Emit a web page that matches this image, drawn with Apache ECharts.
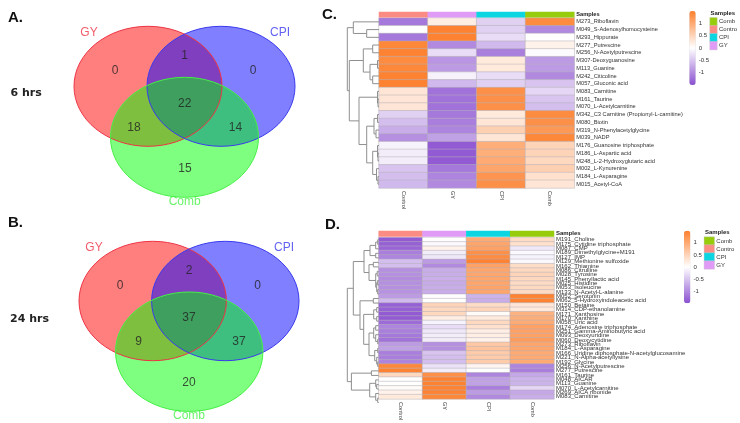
<!DOCTYPE html>
<html><head><meta charset="utf-8">
<style>html,body{margin:0;padding:0;background:#fff}#c{width:740px;height:423px}</style>
<script src="https://cdn.jsdelivr.net/npm/echarts@6/dist/echarts.min.js"></script>
</head><body><div id="c"></div>
<script>
// ---------- DATA ----------
const vennSets = ['GY', 'CPI', 'Comb'];
const vennCounts6h  = [0, 1, 0, 18, 22, 14, 15];
const vennCounts24h = [0, 2, 0, 9, 37, 37, 20];
const columns = ['Control', 'GY', 'CPI', 'Comb'];
const legendNames = ['Comb', 'Contro', 'CPI', 'GY'];
const colorbarTicks = [1, 0.5, 0, -0.5, -1];

const rowsC = ['M273_Riboflavin','M049_S-Adenosylhomocysteine','M293_Hippurate','M277_Putrescine','M256_N-Acetylputrescine','M307-Deoxyguanosine','M113_Guanine','M242_Citicoline','M057_Gluconic acid','M083_Carnitine','M161_Taurine','M070_L-Acetylcarnitine','M342_C3 Carnitine (Propionyl-L-carnitine)','M080_Biotin','M319_N-Phenylacetylglycine','M039_NADP','M176_Guanosine triphosphate','M186_L-Aspartic acid','M248_L-2-Hydroxyglutaric acid','M002_L-Kynurenine','M184_L-Asparagine','M015_Acetyl-CoA'];
const valuesC = [
[-1.15,0.2,-0.4,1.35],[0,1.45,-0.4,-1.0],[-1.15,1.45,-0.3,0],[1.4,-1.0,-0.6,0.15],[1.45,-0.3,-1.1,-0.03],
[1.35,-0.9,0.25,-0.85],[1.4,-0.85,0.25,-0.85],[1.45,-0.12,-0.3,-1.0],[1.45,-0.6,-0.4,-0.5],
[0.3,-1.2,1.3,-0.35],[0.3,-1.2,1.3,-0.5],[0.3,-1.2,1.3,-0.55],
[-0.4,-1.15,0.25,1.35],[-0.55,-1.1,0.3,1.3],[-0.7,-1.05,0.55,1.2],[-0.95,-0.8,0.3,1.4],
[-0.1,-1.4,0.95,0.5],[-0.15,-1.4,0.95,0.5],[-0.15,-1.4,1.0,0.45],[-0.5,-1.15,1.05,0.55],[-0.55,-1.05,1.25,0.35],[-0.6,-1.0,1.3,0.3]];
// dendrogram nodes: [height, childA, childB]; numbers are row indices
const treeC = [31.7,[25.7,0,[12.3,1,2]],[29.7,[15.7,[6.3,3,4],[9,[1.5,5,6],[6.3,7,8]]],[20,[1.5,9,[1,10,11]],[12.3,[5,[1.5,12,13],[3,14,15]],[6.3,[1.5,16,[1,17,18]],[2.5,19,[1,20,21]]]]]]];

const rowsD = ['M191_Choline','M175_Cytidine triphosphate','M087_CMP','M189_Dimethylglycine+M191','M127_IMP','M129_Methionine sulfoxide','M162_Thiamine','M086_Citrulline','M028_Tyrosine','M145_Phenyllactic acid','M025_Histidine','M053_Isoleucine','M133_N-Acetyl-L-alanine','M052_Serotonin','M062_5-Hydroxyindoleacetic acid','M150_Betaine','M314_CDP-ethanolamine','M171_Xanthosine','M170_Xanthine','M058_Uric acid','M174_Adenosine triphosphate','M251_Gamma-Aminobutyric acid','M093_Deoxyuridine','M060_Deoxycytidine','M273_Riboflavin','M184_L-Asparagine','M166_Uridine diphosphate-N-acetylglucosamine','M221_N-Alpha-acetyllysine','M192_Glycine','M256_N-Acetylputrescine','M277_Putrescine','M161_Taurine','M048_AICAR','M113_Guanine','M070_L-Acetylcarnitine','M269_AICA ribonide','M083_Carnitine'];
const valuesD = [
[-1.4,0,1.0,0.4],[-1.35,-0.05,1.05,0.35],[-1.3,0.15,1.1,-0.2],[-1.1,-0.15,1.3,-0.05],[-1.05,-0.2,1.35,-0.1],
[-0.55,-0.85,1.45,-0.05],[-0.55,-1.0,1.1,0.4],[-0.95,-0.7,1.05,0.45],[-0.95,-0.7,1.05,0.5],[-0.98,-0.68,1.05,0.45],
[-0.95,-0.72,1.05,0.42],[-0.95,-0.7,1.08,0.45],[-0.92,-0.7,1.05,0.42],[-0.85,0,-0.65,1.45],[-0.6,0,-0.7,1.45],
[-1.35,0.5,0.4,0.3],[-1.35,0.45,0.5,0.25],[-1.4,0.45,0.05,0.9],[-1.4,0.2,0.25,0.95],[-1.25,-0.1,0.45,1.0],
[-1.05,-0.3,0.35,1.1],[-1.1,-0.2,0.2,1.1],[-1.15,-0.15,0.2,1.1],[-1.2,-0.15,0.15,1.15],[-0.85,-0.95,0.65,1.05],
[-0.8,-0.95,0.7,1.05],[-1.1,-0.5,0.6,1.0],[-1.1,-0.55,0.6,1.0],[-1.05,-0.55,0.6,1.0],[1.4,-0.25,0.1,-1.05],
[1.45,-0.15,0,-1.1],[0.45,1.3,-1.05,-0.75],[0,1.45,-0.8,-0.65],[0,1.45,-0.8,-0.65],[0.05,1.45,-1.1,-0.35],
[0.15,1.45,-0.85,-0.75],[0.25,1.4,-1.0,-0.7]];
const treeD = [31.4,[25.4,[14.7,[8.7,[3,[1,0,1],2],[3,3,4]],[9.7,[5.4,5,6],[3,[1.5,7,8],[2,[1,9,10],[1,11,12]]]]],[18.7,[5.4,13,14],[15,[5,[2,15,16],[2,17,18]],[9.7,[5,[3,19,20],[3,21,[1,22,23]]],[4,[1,24,25],[2,26,[1,27,28]]]]]]],[27.3,[7.3,29,30],[9,[3,31,[2,32,33]],[3,34,[1,35,36]]]]];

// ---------- STYLE & LAYOUT ----------
const FONT = '"Liberation Sans", Arial, sans-serif';
const PURPLE = '#8a4fd0', ORANGE = '#fd7f2c';
const sampleColors = {Control:'#fb8c84', GY:'#e09bf6', CPI:'#0bd5e0', Comb:'#96cc0c', Contro:'#fb8c84'};
const setColors = {GY:[255,0,0], CPI:[0,0,255], Comb:[0,255,0]};
const setEdge = {GY:'#ee3344', CPI:'#3a3aee', Comb:'#44f044'};
const vennLayouts = [
  {counts:vennCounts6h, rx:74, ry:60,
   centers:{GY:[148,86.3],CPI:[221,86.3],Comb:[184.5,137.3]},
   names:{GY:[89,33],CPI:[280,33],Comb:[184.7,202]},
   spots:[[115,71],[184.7,56],[253,71],[134,128],[184.7,104],[235.5,128],[185,168.5]]},
  {counts:vennCounts24h, rx:73.7, ry:59.7,
   centers:{GY:[152.7,301],CPI:[225.3,301],Comb:[189.2,351.7]},
   names:{GY:[94,248],CPI:[284,248],Comb:[189,416]},
   spots:[[120,286],[189,271],[257.5,286],[138.5,342],[189,318],[239,342],[189,383]]}
];
const panels = [
  {rows:rowsC, values:valuesC, tree:treeC, left:379, width:195.3, top:18, height:170, annTop:12, annH:5.2,
   labelSize:5.7, cbar:{left:689.3,top:11,w:6.4,h:74}, leg:{left:710,top:17.7,w:10,h:32,titleX:710.5,titleY:14}},
  {rows:rowsD, values:valuesD, tree:treeD, left:378.7, width:175.3, top:237.5, height:167.3, annTop:231, annH:5.4,
   labelSize:6, cbar:{left:684,top:230.7,w:6.4,h:72.6}, leg:{left:704.3,top:237,w:10,h:32,titleX:705,titleY:233}}
];

// ---------- BUILD ----------
const grid=[], xAxis=[], yAxis=[], series=[], visualMap=[], graphic=[];
function addGrid(g,x,y){grid.push(Object.assign({containLabel:false},g));const i=grid.length-1;
  xAxis.push(Object.assign({gridIndex:i},x));yAxis.push(Object.assign({gridIndex:i},y));return i;}
const hidden={show:false};

// pixel-scaled overlay for the Venn diagrams
const ov=addGrid({left:0,top:0,width:740,height:423},
  {type:'value',min:0,max:740,show:false},{type:'value',min:0,max:423,inverse:true,show:false});
function vennItem(params,api){
  const c=api.coord([api.value(0),api.value(1)]), s=api.size([api.value(2),api.value(3)]);
  const name=vennSets[api.value(4)], rgb=setColors[name], isFill=api.value(5)===1;
  return {type:'ellipse',shape:{cx:c[0],cy:c[1],rx:s[0],ry:s[1]},
    style:isFill?{fill:`rgba(${rgb[0]},${rgb[1]},${rgb[2]},0.5)`,stroke:null}
                :{fill:null,stroke:setEdge[name],lineWidth:1}};
}
vennLayouts.forEach(L=>{
  const rows=[];
  [1,0].forEach(f=>vennSets.forEach((n,i)=>rows.push([L.centers[n][0],L.centers[n][1],L.rx,L.ry,i,f])));
  series.push({type:'custom',xAxisIndex:ov,yAxisIndex:ov,renderItem:vennItem,data:rows,clip:false,silent:true,
    encode:{x:0,y:1}});
  series.push({type:'scatter',xAxisIndex:ov,yAxisIndex:ov,symbolSize:0,silent:true,z:5,
    data:L.counts.map((v,i)=>({value:[L.spots[i][0],L.spots[i][1]],
      label:{show:true,position:'inside',formatter:String(v),fontFamily:FONT,fontSize:12,color:'#222'}}))});
  series.push({type:'scatter',xAxisIndex:ov,yAxisIndex:ov,symbolSize:0,silent:true,z:5,
    data:vennSets.map(n=>({value:L.names[n],
      label:{show:true,position:'inside',formatter:n,fontFamily:FONT,fontSize:12,color:setEdge[n]}}))});
});

function flatten(node,links){
  if(typeof node==='number')return {h:0,y:node+0.5};
  const a=flatten(node[1],links), b=flatten(node[2],links);
  links.push([a.h,a.y,node[0],b.y,b.h]);
  return {h:node[0],y:(a.y+b.y)/2};
}
function dendroItem(params,api){
  const p=[[api.value(0),api.value(1)],[api.value(2),api.value(1)],[api.value(2),api.value(3)],[api.value(4),api.value(3)]].map(q=>api.coord(q));
  return {type:'polyline',shape:{points:p},style:{fill:null,stroke:'#8f8f8f',lineWidth:1}};
}

panels.forEach(P=>{
  const n=P.rows.length;
  // main heatmap
  const h=addGrid({left:P.left,top:P.top,width:P.width,height:P.height},
    {type:'category',data:columns,axisLine:hidden,axisTick:hidden,splitLine:hidden,
     axisLabel:{rotate:-90,fontSize:5.6,fontFamily:FONT,color:'#444',margin:3,interval:0}},
    {type:'category',data:P.rows,inverse:true,position:'right',axisLine:hidden,axisTick:hidden,splitLine:hidden,
     axisLabel:{interval:0,fontSize:P.labelSize,fontFamily:FONT,color:'#333',margin:2}});
  const cells=[];P.values.forEach((r,y)=>r.forEach((v,x)=>cells.push([x,y,v])));
  series.push({type:'heatmap',xAxisIndex:h,yAxisIndex:h,data:cells,silent:true,
    itemStyle:{borderColor:'#b4b0b8',borderWidth:0.5}});
  visualMap.push({type:'continuous',seriesIndex:series.length-1,dimension:2,min:-1.5,max:1.5,calculable:false,
    inRange:{color:[PURPLE,'#ffffff',ORANGE]},itemWidth:P.cbar.w,itemHeight:P.cbar.h,left:P.cbar.left,top:P.cbar.top,
    padding:0,text:null,showLabel:false,hoverLink:false,realtime:false});
  // sample annotation strip
  const a=addGrid({left:P.left,top:P.annTop,width:P.width,height:P.annH},
    {type:'category',data:columns,show:false},
    {type:'category',data:['Samples'],position:'right',axisLine:hidden,axisTick:hidden,splitLine:hidden,
     axisLabel:{fontSize:P.labelSize,fontWeight:'bold',fontFamily:FONT,color:'#222',margin:2}});
  series.push({type:'heatmap',xAxisIndex:a,yAxisIndex:a,silent:true,
    data:columns.map((c,i)=>({value:[i,0,1],itemStyle:{color:sampleColors[c]}}))});
  // dendrogram
  const links=[];flatten(P.tree,links);
  const d=addGrid({left:P.left-33,top:P.top,width:33,height:P.height},
    {type:'value',min:0,max:33,inverse:true,show:false},
    {type:'value',min:0,max:n,inverse:true,show:false});
  series.push({type:'custom',xAxisIndex:d,yAxisIndex:d,renderItem:dendroItem,data:links,silent:true,encode:{x:[0,2,4],y:[1,3]}});
  // colour bar tick labels
  addGrid({left:P.cbar.left,top:P.cbar.top,width:P.cbar.w,height:P.cbar.h},
    {type:'category',data:[''],show:false},
    {type:'value',min:-1.5,max:1.5,interval:0.5,position:'right',axisLine:hidden,axisTick:hidden,splitLine:hidden,
     axisLabel:{fontSize:6,fontFamily:FONT,color:'#333',margin:3,
       formatter:v=>colorbarTicks.includes(v)?String(v):''}});
  // sample legend
  const l=addGrid({left:P.leg.left,top:P.leg.top,width:P.leg.w,height:P.leg.h},
    {type:'category',data:['k'],show:false},
    {type:'category',data:legendNames,inverse:true,position:'right',axisLine:hidden,axisTick:hidden,splitLine:hidden,
     axisLabel:{interval:0,fontSize:6,fontFamily:FONT,color:'#333',margin:2}});
  series.push({type:'heatmap',xAxisIndex:l,yAxisIndex:l,silent:true,
    data:legendNames.map((c,i)=>({value:[0,i,1],itemStyle:{color:sampleColors[c],borderColor:'#ccc',borderWidth:0.4}}))});
  graphic.push({type:'text',left:P.leg.titleX,top:P.leg.titleY-3.5,silent:true,
    style:{text:'Samples',font:'bold 6px '+FONT,fill:'#222'}});
});

[['A.',8,10],['B.',8,215],['C.',322,7],['D.',325,217]].forEach(t=>
  graphic.push({type:'text',left:t[1],top:t[2],silent:true,style:{text:t[0],font:`bold 15px ${FONT}`,fill:'#111'}}));
[['6 hrs',10.5,88],['24 hrs',10,314]].forEach(t=>
  graphic.push({type:'text',left:t[1],top:t[2],silent:true,style:{text:t[0],font:`bold 11px "DejaVu Sans", sans-serif`,fill:'#222'}}));

const chart=echarts.init(document.getElementById('c'),null,{renderer:'canvas'});
chart.setOption({animation:false,backgroundColor:'#fff',tooltip:{show:false},grid,xAxis,yAxis,series,visualMap,graphic});
</script></body></html>
